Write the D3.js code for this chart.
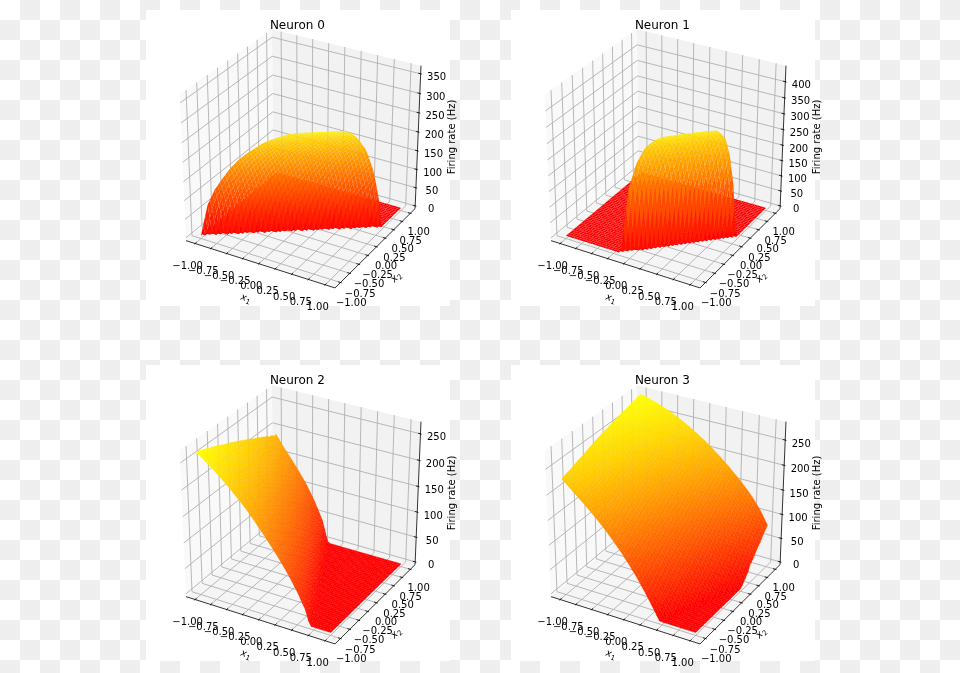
<!DOCTYPE html>
<html><head><meta charset="utf-8">
<style>html,body{margin:0;padding:0;background:#fff}svg{display:block}text{font-family:"DejaVu Sans",sans-serif;fill:#000}</style>
<script src="https://cdn.jsdelivr.net/npm/d3@7"></script></head><body>
<script>
const titles = ["Neuron 0","Neuron 1","Neuron 2","Neuron 3"];
const gridCoords = [-1,-.875,-.75,-.625,-.5,-.375,-.25,-.125,0,.125,.25,.375,.5,.625,.75,.875,1];
const xyTicks = [-1,-.75,-.5,-.25,0,.25,.5,.75,1];
const zTicks0 = [0,50,100,150,200,250,300,350];
const zTicks1 = [0,50,100,150,200,250,300,350,400];
const zTicks2 = [0,50,100,150,200,250];
const zTicks3 = [0,50,100,150,200,250];
// Firing rate (Hz). Rows: x2 = -1..1, columns: x1 = -1..1
const rates0 = [
[0,90,137,172,204,231,253,272,291,305,318,330,339,346,352,358,363],
[0,0,61,114,157,190,220,245,264,283,299,312,325,335,343,349,355],
[0,0,0,19,96,139,178,208,234,256,275,293,307,319,332,340,347],
[0,0,0,0,0,69,119,163,195,223,248,267,285,301,314,326,336],
[0,0,0,0,0,0,38,102,145,182,212,238,259,277,295,309,321],
[0,0,0,0,0,0,0,0,81,125,169,199,227,250,270,287,303],
[0,0,0,0,0,0,0,0,0,49,108,151,186,216,241,261,280],
[0,0,0,0,0,0,0,0,0,0,0,88,131,173,204,231,255],
[0,0,0,0,0,0,0,0,0,0,0,0,60,113,156,190,219],
[0,0,0,0,0,0,0,0,0,0,0,0,0,18,96,138,177],
[0,0,0,0,0,0,0,0,0,0,0,0,0,0,0,70,118],
[0,0,0,0,0,0,0,0,0,0,0,0,0,0,0,0,36],
[0,0,0,0,0,0,0,0,0,0,0,0,0,0,0,0,0],
[0,0,0,0,0,0,0,0,0,0,0,0,0,0,0,0,0],
[0,0,0,0,0,0,0,0,0,0,0,0,0,0,0,0,0],
[0,0,0,0,0,0,0,0,0,0,0,0,0,0,0,0,0],
[0,0,0,0,0,0,0,0,0,0,0,0,0,0,0,0,0]];
const rates1 = [
[0,0,0,0,0,0,0,14,215,299,352,380,399,410,420,429,440],
[0,0,0,0,0,0,0,0,5,211,298,352,379,399,410,419,429],
[0,0,0,0,0,0,0,0,0,0,206,296,351,379,399,410,419],
[0,0,0,0,0,0,0,0,0,0,0,202,294,350,378,398,409],
[0,0,0,0,0,0,0,0,0,0,0,0,197,293,349,377,398],
[0,0,0,0,0,0,0,0,0,0,0,0,0,193,292,349,377],
[0,0,0,0,0,0,0,0,0,0,0,0,0,0,189,290,348],
[0,0,0,0,0,0,0,0,0,0,0,0,0,0,0,184,289],
[0,0,0,0,0,0,0,0,0,0,0,0,0,0,0,0,180],
[0,0,0,0,0,0,0,0,0,0,0,0,0,0,0,0,0],
[0,0,0,0,0,0,0,0,0,0,0,0,0,0,0,0,0],
[0,0,0,0,0,0,0,0,0,0,0,0,0,0,0,0,0],
[0,0,0,0,0,0,0,0,0,0,0,0,0,0,0,0,0],
[0,0,0,0,0,0,0,0,0,0,0,0,0,0,0,0,0],
[0,0,0,0,0,0,0,0,0,0,0,0,0,0,0,0,0],
[0,0,0,0,0,0,0,0,0,0,0,0,0,0,0,0,0],
[0,0,0,0,0,0,0,0,0,0,0,0,0,0,0,0,0]];
const rates2 = [
[267,256,244,231,217,202,186,168,149,129,108,85,59,28,0,0,0],
[263,251,238,225,211,195,179,160,140,120,98,74,48,7,0,0,0],
[259,246,233,220,205,189,172,152,131,111,89,65,36,0,0,0,0],
[255,241,229,214,199,184,165,144,124,103,79,52,18,0,0,0,0],
[250,237,224,209,194,177,157,136,115,94,69,41,0,0,0,0,0],
[245,232,218,203,188,170,149,129,107,84,58,25,0,0,0,0,0],
[241,228,214,199,183,163,142,122,99,74,46,0,0,0,0,0,0],
[236,224,209,193,176,155,134,114,90,63,30,0,0,0,0,0,0],
[231,218,204,188,169,147,127,105,80,51,9,0,0,0,0,0,0],
[226,212,198,181,161,139,119,95,69,38,0,0,0,0,0,0,0],
[221,207,192,174,152,132,109,85,56,19,0,0,0,0,0,0,0],
[215,201,186,166,144,123,99,74,43,0,0,0,0,0,0,0,0],
[210,195,178,157,137,115,90,61,27,0,0,0,0,0,0,0,0],
[205,190,171,150,130,106,79,49,0,0,0,0,0,0,0,0,0],
[199,182,163,142,120,96,67,33,0,0,0,0,0,0,0,0,0],
[194,175,155,134,111,86,55,11,0,0,0,0,0,0,0,0,0],
[190,168,148,127,104,76,42,0,0,0,0,0,0,0,0,0,0]];
const rates3 = [
[228,214,200,186,171,155,137,118,97,74,48,20,0,0,0,0,0],
[232,220,205,191,178,161,143,124,103,82,57,31,3,0,0,0,0],
[235,225,211,197,184,168,150,131,112,92,68,41,15,0,0,0,0],
[239,231,218,203,190,176,158,139,120,101,79,52,28,0,0,0,0],
[243,234,224,209,196,182,166,147,128,109,89,64,38,11,0,0,0],
[247,238,229,216,201,188,174,155,136,118,98,75,49,24,0,0,0],
[251,242,233,222,207,194,180,164,144,126,106,86,61,35,8,0,0],
[255,246,237,228,214,200,186,171,153,134,115,95,72,45,20,0,0],
[258,250,241,232,220,206,192,178,161,142,123,104,83,57,31,4,0],
[261,254,245,235,226,212,198,184,169,150,131,112,93,69,42,16,0],
[264,257,250,241,232,219,205,192,179,161,141,123,103,82,55,29,0],
[267,260,253,244,236,226,212,199,185,169,151,133,114,94,69,41,13],
[270,264,257,249,240,231,219,206,192,178,161,142,124,104,82,55,31],
[272,267,260,253,245,236,226,213,199,185,169,152,134,115,95,69,44],
[275,270,264,257,249,241,232,220,206,192,178,161,143,125,106,83,56],
[278,273,267,261,253,245,236,226,213,200,186,171,154,135,116,95,70],
[280,276,271,265,258,250,241,231,220,208,195,181,166,150,132,110,82]];
// x1 where firing starts on each row (x2 = -1..1)
const onset0 = [-1,-.821,-.643,-.464,-.286,-.107,.071,.25,.429,.607,.786,.964,1.143,1.321,1.5,1.679,1.857];
const onset1 = [-.13,-.002,.127,.255,.384,.512,.64,.769,.897,1.026,1.154,1.283,1.411,1.54,1.668,1.796,1.924];
const onset2 = [.69,.637,.584,.531,.478,.424,.371,.318,.265,.212,.159,.106,.053,0,-.054,-.107,-.16];
const onset3 = [.46,.514,.568,.622,.676,.73,.784,.839,.893,.947,1.001,1.055,1.109,1.163,1.217,1.271,1.325];

const allRates = [rates0,rates1,rates2,rates3];
const allOnsets = [onset0,onset1,onset2,onset3];
const firesRight = [true,true,false,false];
const seamStroke = [0,0,.35,.35];
const allZTicks = [zTicks0,zTicks1,zTicks2,zTicks3];
const panelRects = [[146,10],[511,10],[146,365],[511,365]];
const PW=304, PH=296, SUB=3;

const svg = d3.select("body").append("svg").attr("width",960).attr("height",673);
const defs = svg.append("defs");
const pat = defs.append("pattern").attr("id","chk").attr("width",40).attr("height",40).attr("patternUnits","userSpaceOnUse");
pat.append("rect").attr("width",40).attr("height",40).attr("fill","#fff");
pat.append("rect").attr("x",20).attr("width",20).attr("height",20).attr("fill","#eeeeee");
pat.append("rect").attr("y",20).attr("width",20).attr("height",20).attr("fill","#eeeeee");
defs.append("filter").attr("id","soft").attr("x","0").attr("y","0").attr("width","100%").attr("height","100%")
  .append("feGaussianBlur").attr("stdDeviation",.35);
svg.append("rect").attr("width",960).attr("height",673).attr("fill","url(#chk)");

// matplotlib mplot3d camera: elev 30, azim -60, dist 10
const U=[.8660254,.5,0], V=[-.25,.4330127,.8660254], N=[.4330127,-.75,.5];
const dot=(a,b)=>a[0]*b[0]+a[1]*b[1]+a[2]*b[2];
const LO=-1/48, HI=49/48;

titles.forEach((title,k)=>{
  const rates=allRates[k], zTicks=allZTicks[k], onset=allOnsets[k], right=firesRight[k];
  const [rx,ry]=panelRects[k];
  const cx=rx+156.4, cy=ry+144+ (k>=2?1:0);
  const zMax=d3.max(rates.flat());
  const ux=d3.scaleLinear().domain([-1.1,1.1]).range([0,1]);
  const uy=d3.scaleLinear().domain([-1.1,1.1]).range([0,1]);
  const uz=d3.scaleLinear().domain([0,zMax]).range([0,1]);
  const px=d3.scaleLinear().domain([0,1]).range([cx,cx+1651]);
  const py=d3.scaleLinear().domain([0,1]).range([cy,cy-1601]);
  const proj=(a,b,c)=>{ const q=[a-.5,b-.5,c-.5]; const d=10-dot(q,N);
    return [px(dot(q,U)/d),py(dot(q,V)/d),dot(q,N)]; };
  const line=d3.line();
  const path=pts=>line(pts.map(p=>proj(p[0],p[1],p[2])));
  svg.append("rect").attr("x",rx).attr("y",ry).attr("width",PW).attr("height",PH).attr("fill","#fff");
  const g=svg.append("g").attr("filter","url(#soft)");
  g.append("rect").attr("x",rx).attr("y",ry).attr("width",PW).attr("height",PH).attr("fill","none");
  // panes
  const panes=[
    {c:"#f9f9f9",p:[[LO,LO,LO],[LO,HI,LO],[LO,HI,HI],[LO,LO,HI]]},
    {c:"#f2f2f2",p:[[LO,HI,LO],[HI,HI,LO],[HI,HI,HI],[LO,HI,HI]]},
    {c:"#f5f5f5",p:[[LO,LO,LO],[HI,LO,LO],[HI,HI,LO],[LO,HI,LO]]}];
  g.selectAll(".pane").data(panes).join("path").attr("d",d=>path(d.p)+"Z").attr("fill",d=>d.c);
  // grid
  const gl=[];
  xyTicks.forEach(t=>{const u=ux(t); gl.push([[u,LO,LO],[u,HI,LO],[u,HI,HI]]);});
  xyTicks.forEach(t=>{const u=uy(t); gl.push([[HI,u,LO],[LO,u,LO],[LO,u,HI]]);});
  zTicks.forEach(t=>{const u=uz(t); gl.push([[LO,LO,u],[LO,HI,u],[HI,HI,u]]);});
  g.selectAll(".gl").data(gl).join("path").attr("d",path).attr("fill","none").attr("stroke","#b0b0b0").attr("stroke-width",.9);
  // axis lines and ticks
  const al=[[[LO,LO,LO],[HI,LO,LO]],[[HI,LO,LO],[HI,HI,LO]],[[HI,HI,LO],[HI,HI,HI]]];
  const tl=[]; const inw=.2/12, out=.1/12;
  xyTicks.forEach(t=>tl.push([[ux(t),LO-out,LO],[ux(t),LO+inw,LO]]));
  xyTicks.forEach(t=>tl.push([[HI+out,uy(t),LO],[HI-inw,uy(t),LO]]));
  zTicks.forEach(t=>tl.push([[HI+out,HI,uz(t)],[HI-inw,HI,uz(t)]]));
  g.selectAll(".al").data(al.concat(tl)).join("path").attr("d",path).attr("fill","none").attr("stroke","#000").attr("stroke-width",.8);
  // surface: between the typed rows the facets follow the fold line given by onset
  const rowRate=(j,x)=>{
    const on=onset[j];
    if(right ? x<=on : x>=on) return 0;
    const i=Math.min(Math.floor((x+1)*8),15), x0=gridCoords[i], x1=gridCoords[i+1];
    let v0=rates[j][i], v1=rates[j][i+1], a=x0, b=x1;
    if(right && on>a){a=on;v0=0;}
    if(!right && on<b){b=on;v1=0;}
    return Math.max(0,v0+(v1-v0)*(x-a)/(b-a));
  };
  const rateAt=(fi,fj)=>{
    const x=gridCoords[0]+fi*.125, j=Math.min(Math.floor(fj),15), b=fj-j;
    const delta=onset[j+1]-onset[j], x1=x-b*delta, x2=x+(1-b)*delta;
    const in1=x1>=-1&&x1<=1, in2=x2>=-1&&x2<=1;
    if(in1&&in2) return (1-b)*rowRate(j,x1)+b*rowRate(j+1,x2);
    return in1?rowRate(j,x1):rowRate(j+1,x2);
  };
  const coordAt=f=>gridCoords[0]+f*.125;
  const facets=[]; const n=16*SUB;
  for(let j=0;j<n;j++) for(let i=0;i<n;i++){
    const corners=[[i,j],[i+1,j],[i+1,j+1],[i,j+1]].map(([a,b])=>{
      const fi=a/SUB,fj=b/SUB; const z=rateAt(fi,fj);
      return {p:proj(ux(coordAt(fi)),uy(coordAt(fj)),uz(z)),z};});
    facets.push({pts:corners.map(c=>[c.p[0],c.p[1]]),depth:d3.mean(corners,c=>c.p[2]),z:d3.mean(corners,c=>c.z)});
  }
  facets.sort((a,b)=>a.depth-b.depth);
  const green=d3.scaleLinear().domain([0,zMax]).range([0,255]);
  const colour=d=>`rgb(255,${Math.round(green(d.z))},0)`;
  g.append("g").selectAll("path").data(facets).join("path")
    .attr("d",d=>line(d.pts)+"Z")
    .attr("fill",colour)
    .attr("stroke",seamStroke[k]?colour:"none")
    .attr("stroke-width",seamStroke[k]);
  // tick labels
  const f2=d3.format(".2f");
  const txt=g.append("g").attr("font-size",10).attr("text-anchor","middle");
  xyTicks.forEach((t,idx)=>{ const p=proj(ux(t),LO,LO);
    txt.append("text").attr("x",p[0]-7.5).attr("y",p[1]+22).attr("dy",".35em").text(f2(t)); });
  xyTicks.forEach((t,idx)=>{ const p=proj(HI,uy(t),LO), s=idx/8;
    txt.append("text").attr("x",p[0]+10.7-2.4*s).attr("y",p[1]+20-1.5*s).attr("dy",".35em").text(f2(t)); });
  zTicks.forEach(t=>{ const p=proj(HI,HI,uz(t));
    txt.append("text").attr("x",p[0]+16).attr("y",p[1]+3).attr("dy",".35em").text(t); });
  // titles / labels
  g.append("text").attr("x",cx-5).attr("y",ry+15).attr("dy",".35em").attr("text-anchor","middle").attr("font-size",12).text(title);
  g.append("text").attr("text-anchor","middle").attr("font-size",10)
    .attr("transform",`translate(${cx+148.6},${cy-17}) rotate(-90)`).attr("dy",".35em").text("Firing rate (Hz)");
  const sub=(sel,n)=>{ sel.append("tspan").attr("font-style","italic").text("x");
    sel.append("tspan").attr("font-size",7).attr("dy",2).text(n); };
  sub(g.append("text").attr("text-anchor","middle").attr("font-size",10)
    .attr("transform",`translate(${cx-57.4},${cy+147}) rotate(19)`),"1");
  sub(g.append("text").attr("text-anchor","middle").attr("font-size",10)
    .attr("transform",`translate(${cx+95.6},${cy+125}) rotate(-45)`),"2");
});
</script></body></html>
